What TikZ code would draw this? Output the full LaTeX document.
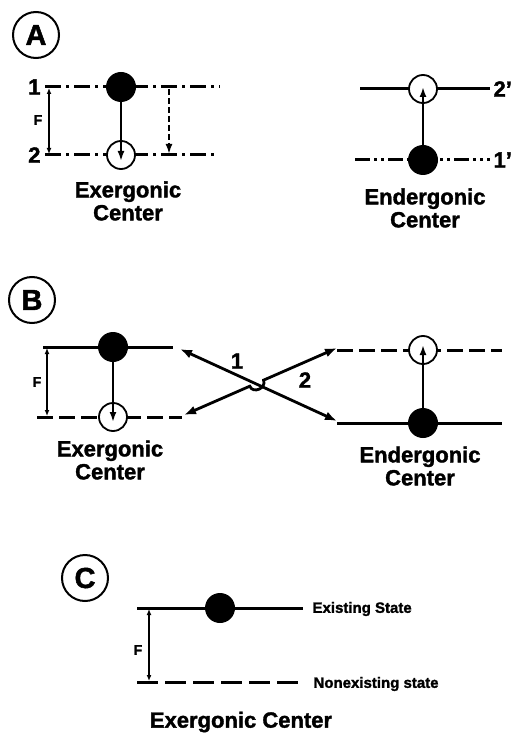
\documentclass[tikz,border=0pt]{standalone}
\usepackage{fontspec}
\setmainfont{Liberation Sans}[BoldFeatures={FakeBold=1.6}]
\usetikzlibrary{arrows.meta,calc}
\begin{document}
\begin{tikzpicture}[x=1pt,y=-1pt,
  level/.style={line width=3pt},
  dashdot/.style={level, dash pattern=on 16pt off 5pt on 3pt off 5pt},
  dashdotdot/.style={level, dash pattern=on 15pt off 4pt on 3pt off 4pt on 3pt off 4pt},
  dashB/.style={level, dash pattern=on 16pt off 6pt},
  dashC/.style={level, dash pattern=on 21pt off 7pt},
  filled/.style={circle, fill=black, minimum size=30pt, inner sep=0pt},
  empty/.style={circle, draw, fill=white, line width=1.8pt, minimum size=28pt, inner sep=0pt},
  transfer/.style={line width=2.1pt, -{Latex[length=10pt,width=7pt]}},
  gap/.style={line width=1.6pt, {Latex[length=6pt,width=5pt]}-{Latex[length=6pt,width=5pt]}},
  crossarr/.style={line width=2.8pt, {Latex[length=12pt,width=9pt]}-{Latex[length=12pt,width=9pt]}},
  panel/.style={circle, draw, line width=2pt, minimum size=46pt, inner sep=0pt,
    font=\bfseries\fontsize{29}{29}\selectfont},
  caption/.style={font=\bfseries\fontsize{22}{23}\selectfont, align=center},
  levlab/.style={font=\bfseries\fontsize{22}{22}\selectfont},
  flab/.style={font=\bfseries\fontsize{14}{14}\selectfont},
  statelab/.style={font=\bfseries\fontsize{15}{15}\selectfont, anchor=west}]
\useasboundingbox (0,0) rectangle (516,735);

% ---------------- Panel A ----------------
\node[panel] (pA) at (36,35) {A};

% exergonic center: levels 1 and 2
\coordinate (a1l) at (45,87);  \coordinate (a1r) at (220,87);
\coordinate (a2l) at (45,155); \coordinate (a2r) at (215,155);
\draw[dashdot] (a1l) -- (a1r);
\draw[dashdot] (a2l) -- (a2r);
\node[levlab, anchor=east] (l1) at (44,87) {1};
\node[levlab, anchor=east] (l2) at (44,155) {2};
\coordinate (aFt) at (49,88); \coordinate (aFb) at (49,154);
\draw[gap] (aFt) -- (aFb);
\node[flab] (aF) at (38,120) {F};
\node[filled] (ax) at (121,87) {};
\node[empty] (ay) at (121,155) {};
\draw[transfer, shorten >=-6pt] (ax) -- (ay.center);
\coordinate (adt) at (169,89); \coordinate (adb) at (169,154);
\draw[line width=2pt, dash pattern=on 6pt off 3pt, -{Latex[length=10pt,width=7pt]}] (adt) -- (adb);
\node[caption] (aex) at (128,201) {Exergonic\\Center};

% endergonic center: levels 1' and 2'
\coordinate (e2l) at (360,89);  \coordinate (e2r) at (490,89);
\coordinate (e1l) at (355,160); \coordinate (e1r) at (490,160);
\draw[level] (e2l) -- (e2r);
\draw[dashdotdot] (e1l) -- (e1r);
\node[levlab, anchor=west] (l2p) at (490,89) {2'};
\node[levlab, anchor=west] (l1p) at (490,160) {1'};
\node[empty] (ey) at (423,89) {};
\node[filled] (ex) at (423,160) {};
\draw[transfer, shorten >=-2pt] (ex) -- (ey.center);
\node[caption] (aen) at (425,208) {Endergonic\\Center};

% ---------------- Panel B ----------------
\node[panel] (pB) at (32,300) {B};

\coordinate (bxtl) at (43,347);  \coordinate (bxtr) at (173,347);
\coordinate (bxbl) at (37,417);  \coordinate (bxbr) at (182,417);
\draw[level] (bxtl) -- (bxtr);
\draw[dashB] (bxbl) -- (bxbr);
\coordinate (bFt) at (47,348); \coordinate (bFb) at (47,416);
\draw[gap] (bFt) -- (bFb);
\node[flab] (bF) at (37,382) {F};
\node[filled] (bx) at (113,347) {};
\node[empty] (by) at (113,417) {};
\draw[transfer, shorten >=-5pt] (bx) -- (by.center);
\node[caption] (bex) at (110,460) {Exergonic\\Center};

\coordinate (bntl) at (337,350); \coordinate (bntr) at (502,350);
\coordinate (bnbl) at (337,423); \coordinate (bnbr) at (502,423);
\draw[dashB] (bntl) -- (bntr);
\draw[level] (bnbl) -- (bnbr);
\node[empty] (bny) at (423,350) {};
\node[filled] (bnx) at (423,423) {};
\draw[transfer, shorten >=-5pt] (bnx) -- (bny.center);
\node[caption] (ben) at (420,466) {Endergonic\\Center};

% coupling arrows between the two centers
\coordinate (c1s) at (180,349); \coordinate (c1e) at (337,421);
\coordinate (c2s) at (184,415); \coordinate (c2e) at (337,348);
\draw[crossarr] (c1s) -- (c1e);
\draw[crossarr] (c2s) -- ($(c2s)!0.43!(c2e)$)
  .. controls +(3.2,8) and +(3.2,8) .. ($(c2s)!0.52!(c2e)$) -- (c2e);
\node[levlab] (n1) at (237,361) {1};
\node[levlab] (n2) at (305,380) {2};

% ---------------- Panel C ----------------
\node[panel] (pC) at (85,578) {C};

\coordinate (ctl) at (137,608); \coordinate (ctr) at (303,608);
\coordinate (cbl) at (137,682); \coordinate (cbr) at (303,682);
\draw[level] (ctl) -- (ctr);
\draw[dashC] (cbl) -- (cbr);
\coordinate (cFt) at (149,609); \coordinate (cFb) at (149,681);
\draw[gap] (cFt) -- (cFb);
\node[flab] (cF) at (138,650) {F};
\node[filled] (cx) at (220,608) {};
\node[statelab] (cex) at (309,609) {Existing State};
\node[statelab] (cnon) at (310,684) {Nonexisting state};
\node[caption] (ccap) at (241,722) {Exergonic Center};
\end{tikzpicture}
\end{document}
